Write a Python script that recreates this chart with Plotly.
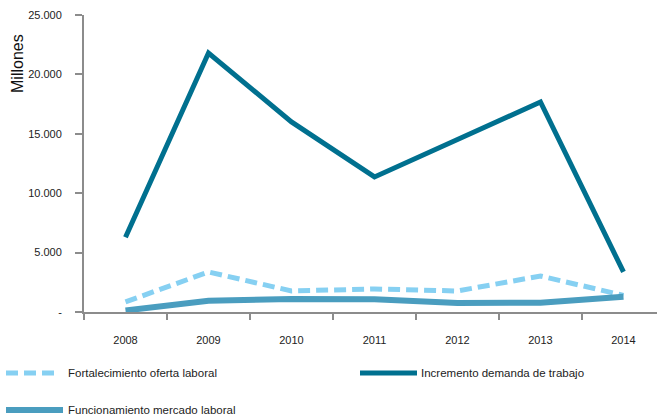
import plotly.graph_objects as go

years = ["2008", "2009", "2010", "2011", "2012", "2013", "2014"]
fortalecimiento = [850, 3370, 1770, 1940, 1770, 3030, 1400]
incremento = [6300, 21800, 16000, 11370, 14520, 17680, 3370]
funcionamiento = [130, 950, 1100, 1070, 760, 780, 1290]

ytick_vals = [0, 5000, 10000, 15000, 20000, 25000]
ytick_text = ["-", "5.000", "10.000", "15.000", "20.000", "25.000"]

names = ["Fortalecimiento oferta laboral", "Incremento demanda de trabajo", "Funcionamiento mercado laboral"]
colors = ["#86D0F2", "#00708F", "#4A9DBF"]
widths = [5, 5, 6]
dashes = ["12px,6px", "solid", "solid"]

W, H = 657, 417
L, T, B = 84, 15, 105
plot_w = W - L
plot_h = H - T - B

fig = go.Figure()
series = [fortalecimiento, incremento, funcionamiento]
for nm, vals, c, w, d in zip(names, series, colors, widths, dashes):
    fig.add_trace(go.Scatter(x=years, y=vals, mode="lines", name=nm,
                             line=dict(color=c, width=w, dash=d),
                             showlegend=False))

def px_x(p):
    return (p - L) / plot_w

def px_y(p):
    return (H - B - p) / plot_h

# manual legend
leg = [
    (0, 6, 55, 373, 66),
    (1, 360, 417, 373, 419),
    (2, 6, 63, 410, 66),
]
shapes = []
annotations = []
for idx, x0, x1, yy, tx in leg:
    shapes.append(dict(type="line", xref="paper", yref="paper",
                       x0=px_x(x0), x1=px_x(x1), y0=px_y(yy), y1=px_y(yy),
                       line=dict(color=colors[idx], width=widths[idx], dash=dashes[idx])))
    annotations.append(dict(xref="paper", yref="paper", x=px_x(tx), y=px_y(yy),
                            text=names[idx], showarrow=False, xanchor="left",
                            yanchor="middle", font=dict(size=11.5, color="#222")))

annotations.append(dict(xref="paper", yref="paper", x=px_x(17), y=px_y(64),
                        text="Millones", textangle=-90, showarrow=False,
                        xanchor="center", yanchor="middle",
                        font=dict(size=16, color="#111")))

fig.update_layout(
    width=W, height=H,
    margin=dict(l=L, r=0, t=T, b=B, pad=0),
    paper_bgcolor="white", plot_bgcolor="white",
    font=dict(family="Liberation Sans, Arial, sans-serif", color="#222"),
    shapes=shapes, annotations=annotations,
    xaxis=dict(type="category", range=[-0.5, 6.404], tickson="boundaries",
               ticks="outside", ticklen=6, tickwidth=2, tickcolor="#8c8c8c",
               showline=True, linecolor="#8c8c8c", linewidth=2,
               showgrid=False, zeroline=False, tickfont=dict(size=11, color="#222"),
               ticklabelstandoff=17),
    yaxis=dict(range=[0, 25000], tickvals=ytick_vals, ticktext=ytick_text,
               ticks="outside", ticklen=7, tickwidth=2, tickcolor="#8c8c8c",
               showline=True, linecolor="#8c8c8c", linewidth=2,
               showgrid=False, zeroline=False, tickfont=dict(size=11, color="#222"),
               ticklabelstandoff=11),
)

fig.write_html("out.html")
